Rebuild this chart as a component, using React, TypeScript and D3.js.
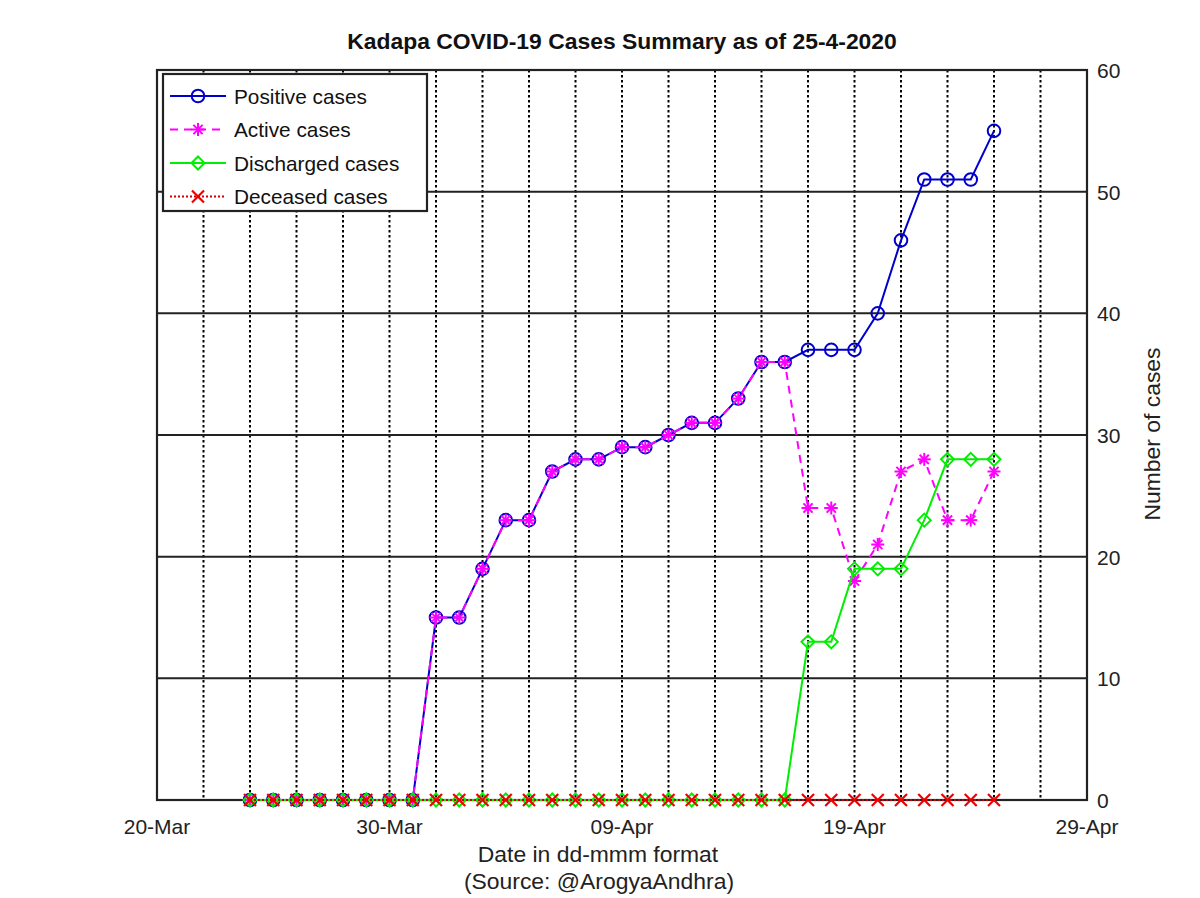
import React from "react";
import * as d3 from "d3";

const dates: string[] = [
  "2020-03-24","2020-03-25","2020-03-26","2020-03-27","2020-03-28","2020-03-29","2020-03-30","2020-03-31",
  "2020-04-01","2020-04-02","2020-04-03","2020-04-04","2020-04-05","2020-04-06","2020-04-07","2020-04-08",
  "2020-04-09","2020-04-10","2020-04-11","2020-04-12","2020-04-13","2020-04-14","2020-04-15","2020-04-16",
  "2020-04-17","2020-04-18","2020-04-19","2020-04-20","2020-04-21","2020-04-22","2020-04-23","2020-04-24","2020-04-25",
];
const positive: number[] = [0,0,0,0,0,0,0,0,15,15,19,23,23,27,28,28,29,29,30,31,31,33,36,36,37,37,37,40,46,51,51,51,55];
const active: number[] = [0,0,0,0,0,0,0,0,15,15,19,23,23,27,28,28,29,29,30,31,31,33,36,36,24,24,18,21,27,28,23,23,27];
const discharged: number[] = [0,0,0,0,0,0,0,0,0,0,0,0,0,0,0,0,0,0,0,0,0,0,0,0,13,13,19,19,19,23,28,28,28];
const deceased: number[] = [0,0,0,0,0,0,0,0,0,0,0,0,0,0,0,0,0,0,0,0,0,0,0,0,0,0,0,0,0,0,0,0,0];
const xTickLabels: string[] = ["2020-03-20","2020-03-30","2020-04-09","2020-04-19","2020-04-29"];
const yTicks: number[] = [0, 10, 20, 30, 40, 50, 60];

const W = 1200, H = 898;
const L = 157, R = 1087, T = 70, B = 800;
const FONT = "'Liberation Sans', Arial, Helvetica, sans-serif";

const parse = d3.timeParse("%Y-%m-%d");
const fmt = d3.timeFormat("%d-%b");

export default function App() {
  const x = d3.scaleTime().domain([parse("2020-03-20")!, parse("2020-04-29")!]).range([L, R]);
  const y = d3.scaleLinear().domain([0, 60]).range([B, T]);
  const xs = dates.map((d) => parse(d)!);
  const gridDays = d3.timeDay.range(parse("2020-03-22")!, parse("2020-04-29")!, 2);

  const line = (vals: number[]) =>
    d3.line<number>().x((_, i) => x(xs[i])).y((v) => y(v))(vals) || "";

  const SW = 2;
  const circle = (cx: number, cy: number, k: string) => (
    <circle key={k} cx={cx} cy={cy} r={6.3} fill="none" stroke="#0000cc" strokeWidth={SW} />
  );
  const star = (cx: number, cy: number, k: string) => {
    const s = 6.5, d = 4.6;
    return (
      <g key={k} stroke="#ff00ff" strokeWidth={SW}>
        <line x1={cx - s} y1={cy} x2={cx + s} y2={cy} />
        <line x1={cx} y1={cy - s} x2={cx} y2={cy + s} />
        <line x1={cx - d} y1={cy - d} x2={cx + d} y2={cy + d} />
        <line x1={cx - d} y1={cy + d} x2={cx + d} y2={cy - d} />
      </g>
    );
  };
  const diamond = (cx: number, cy: number, k: string) => {
    const s = 6.5;
    return (
      <polygon key={k} points={`${cx},${cy - s} ${cx + s},${cy} ${cx},${cy + s} ${cx - s},${cy}`}
        fill="none" stroke="#00ee00" strokeWidth={SW} />
    );
  };
  const cross = (cx: number, cy: number, k: string) => {
    const s = 6;
    return (
      <g key={k} stroke="#ee0000" strokeWidth={2.2}>
        <line x1={cx - s} y1={cy - s} x2={cx + s} y2={cy + s} />
        <line x1={cx - s} y1={cy + s} x2={cx + s} y2={cy - s} />
      </g>
    );
  };

  const series = [
    { name: "Positive cases", vals: positive, color: "#0000cc", dash: undefined as string | undefined, mk: circle },
    { name: "Active cases", vals: active, color: "#ff00ff", dash: "8,6", mk: star },
    { name: "Discharged cases", vals: discharged, color: "#00ee00", dash: undefined, mk: diamond },
    { name: "Deceased cases", vals: deceased, color: "#cc0000", dash: "2,2", mk: cross },
  ];

  return (
    <svg width={W} height={H} style={{ position: "absolute", left: 0, top: 0, background: "#fff" }}>
      <rect x={0} y={0} width={W} height={H} fill="#fff" />
      {/* grid */}
      {gridDays.map((d, i) => (
        <line key={"vg" + i} x1={x(d)} x2={x(d)} y1={T} y2={B} stroke="#000" strokeWidth={2} strokeDasharray="2.5,2.5" />
      ))}
      {yTicks.slice(1, -1).map((v) => (
        <line key={"hg" + v} x1={L} x2={R} y1={y(v)} y2={y(v)} stroke="#222" strokeWidth={2} />
      ))}
      {/* axes box */}
      <rect x={L} y={T} width={R - L} height={B - T} fill="none" stroke="#222" strokeWidth={2.2} />
      {/* y ticks on right */}
      {yTicks.map((v) => (
        <text key={"yt" + v} x={R + 10} y={y(v) + 8} fontFamily={FONT} fontSize={21} fill="#222">{v}</text>
      ))}
      {xTickLabels.map((s) => (
        <text key={"xt" + s} x={x(parse(s)!)} y={834} textAnchor="middle" fontFamily={FONT} fontSize={21} fill="#222">
          {fmt(parse(s)!)}
        </text>
      ))}
      {/* series */}
      {series.map((s) => (
        <g key={s.name}>
          <path d={line(s.vals)} fill="none" stroke={s.color} strokeWidth={SW} strokeDasharray={s.dash} />
          {s.vals.map((v, i) => s.mk(x(xs[i]), y(v), s.name + i))}
        </g>
      ))}
      {/* legend */}
      <rect x={163} y={74} width={264} height={137} fill="#fff" stroke="#222" strokeWidth={2.2} />
      {series.map((s, i) => {
        const ly = 96 + i * 33.5;
        return (
          <g key={"lg" + i}>
            <line x1={170} x2={226} y1={ly} y2={ly} stroke={s.color} strokeWidth={SW} strokeDasharray={s.dash} />
            {s.mk(198, ly, "lm" + i)}
            <text x={234} y={ly + 7.5} fontFamily={FONT} fontSize={20.8} fill="#111">{s.name}</text>
          </g>
        );
      })}
      {/* title & labels */}
      <text x={622} y={49} textAnchor="middle" fontFamily={FONT} fontSize={22.9} fontWeight="bold" fill="#111">
        Kadapa COVID-19 Cases Summary as of 25-4-2020
      </text>
      <text x={598} y={862} textAnchor="middle" fontFamily={FONT} fontSize={22.9} fill="#222">Date in dd-mmm format</text>
      <text x={599} y={889} textAnchor="middle" fontFamily={FONT} fontSize={22.9} fill="#222">(Source: @ArogyaAndhra)</text>
      <text transform="translate(1160,434) rotate(-90)" textAnchor="middle" fontFamily={FONT} fontSize={22.9} fill="#222">
        Number of cases
      </text>
    </svg>
  );
}
